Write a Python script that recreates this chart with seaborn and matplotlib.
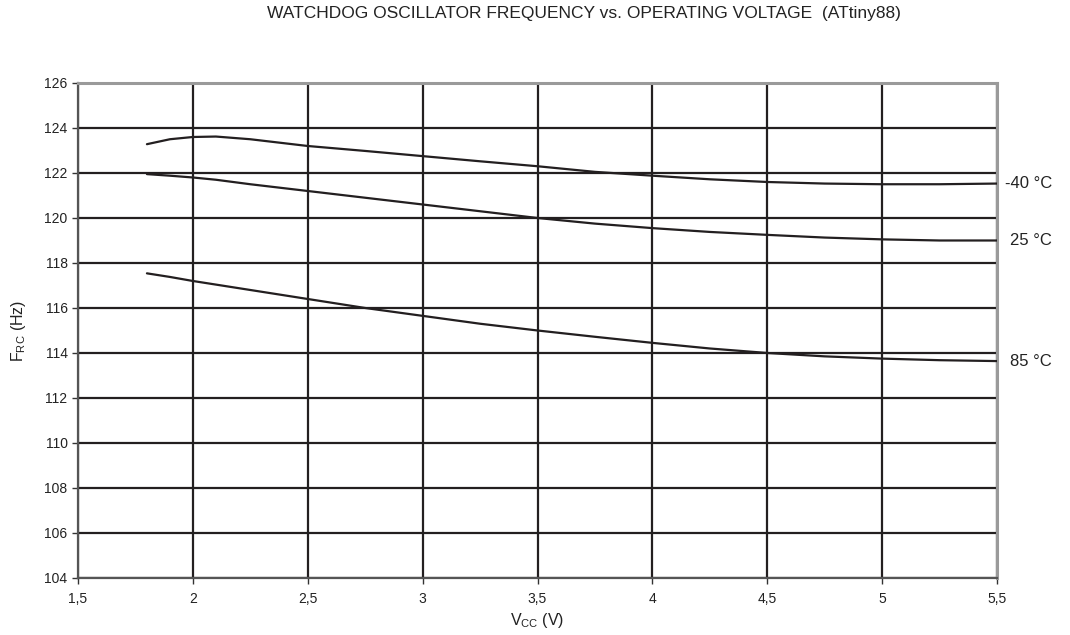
import pandas as pd
import matplotlib
matplotlib.use("Agg")
import matplotlib.pyplot as plt
import matplotlib.ticker as mticker
import seaborn as sns

# Data
vcc = [1.8, 1.9, 2.0, 2.1, 2.25, 2.5, 2.75, 3.0, 3.25, 3.5, 3.75, 4.0, 4.25, 4.5, 4.75, 5.0, 5.25, 5.5]
f_m40 = [123.28, 123.5, 123.6, 123.62, 123.5, 123.2, 122.98, 122.75, 122.52, 122.3, 122.05, 121.88, 121.72, 121.6, 121.53, 121.5, 121.5, 121.53]
f_25 = [121.95, 121.88, 121.8, 121.7, 121.5, 121.2, 120.9, 120.6, 120.3, 120.0, 119.75, 119.55, 119.38, 119.25, 119.13, 119.05, 119.0, 119.0]
f_85 = [117.54, 117.38, 117.2, 117.04, 116.8, 116.4, 116.0, 115.65, 115.3, 115.0, 114.72, 114.45, 114.2, 114.0, 113.85, 113.75, 113.68, 113.64]
temps = ["-40 °C", "25 °C", "85 °C"]

df = pd.concat([
    pd.DataFrame({"vcc": vcc, "freq": f, "temp": t})
    for f, t in zip([f_m40, f_25, f_85], temps)
])

sns.set_style("white")
plt.rcParams["font.family"] = ["Liberation Sans", "DejaVu Sans"]

fig, ax = plt.subplots(figsize=(10.7, 6.35), dpi=100)
fig.subplots_adjust(left=0.0729, right=0.9318, top=0.8693, bottom=0.0898)

grid_col = "#231f20"
sns.lineplot(data=df, x="vcc", y="freq", hue="temp", palette=[grid_col] * 3,
             legend=False, linewidth=1.6, ax=ax, zorder=3)

ax.set_xlim(1.5, 5.5)
ax.set_ylim(104, 126)
ax.xaxis.set_major_locator(mticker.MultipleLocator(0.5))
ax.yaxis.set_major_locator(mticker.MultipleLocator(2))
ax.xaxis.set_major_formatter(mticker.FuncFormatter(lambda v, p: f"{v:g}".replace(".", ",")))
ax.yaxis.set_major_formatter(mticker.FuncFormatter(lambda v, p: f"{v:g}"))

ax.grid(True, color=grid_col, linewidth=1.6, zorder=1)
ax.set_axisbelow(True)

for side in ["top", "right"]:
    ax.spines[side].set_color("#9a9a9a")
    ax.spines[side].set_linewidth(2.2)
for side in ["left", "bottom"]:
    ax.spines[side].set_color("#555555")
    ax.spines[side].set_linewidth(1.6)

ax.tick_params(axis="both", direction="out", length=4, width=1, colors="#333333",
               labelsize=10, labelcolor="#222222", bottom=True, left=True)
ax.tick_params(axis="x", pad=6)

ax.set_xlabel(r"V$_{\mathregular{CC}}$ (V)", fontsize=11.5, color="#222222", labelpad=4)
ax.set_ylabel(r"F$_{\mathregular{RC}}$ (Hz)", fontsize=11.5, color="#222222", labelpad=12)

for t, f in zip(temps, [f_m40, f_25, f_85]):
    ax.text(5.535 if t.startswith("-") else 5.555, f[-1], t, fontsize=12, color="#222222",
            va="center", ha="left", clip_on=False)

fig.text(0.546, 0.99, "WATCHDOG OSCILLATOR FREQUENCY vs. OPERATING VOLTAGE  (ATtiny88)",
         ha="center", va="top", fontsize=12.5, color="#222222")

fig.savefig("out.png", dpi=100)
